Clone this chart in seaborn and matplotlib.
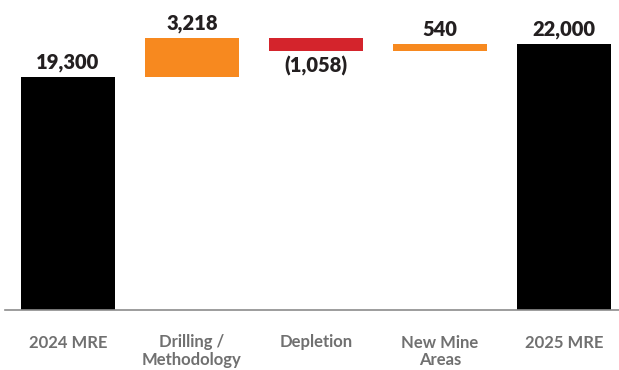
import matplotlib
matplotlib.use("Agg")
import matplotlib.pyplot as plt
import seaborn as sns
import pandas as pd

categories = ["2024 MRE", "Drilling /\nMethodology", "Depletion", "New Mine\nAreas", "2025 MRE"]
changes = [19300, 3218, -1058, 540, 22000]
labels = ["19,300", "3,218", "(1,058)", "540", "22,000"]
kinds = ["total", "step", "step", "step", "total"]

# Waterfall geometry: totals start at zero, steps float on the running sum
bottoms, heights = [], []
running = 0
for v, k in zip(changes, kinds):
    if k == "total":
        bottoms.append(0)
        heights.append(v)
        running = v
    else:
        lo = min(running, running + v)
        bottoms.append(lo)
        heights.append(abs(v))
        running += v

colors = []
for v, k in zip(changes, kinds):
    if k == "total":
        colors.append("#000000")
    elif v >= 0:
        colors.append("#F7891F")
    else:
        colors.append("#D4242C")

df = pd.DataFrame({"category": categories, "height": heights})

sns.set_theme(style="white")
plt.rcParams["font.family"] = ["Lato", "DejaVu Sans"]

fig = plt.figure(figsize=(6.19, 3.70), dpi=100)
ax = fig.add_axes([5 / 619, 60.5 / 370, 614 / 619, 309.5 / 370])

sns.barplot(data=df, x="category", y="height", bottom=bottoms, width=0.758,
            color="#000000", linewidth=0, ax=ax)
for patch, c in zip(ax.patches, colors):
    patch.set_facecolor(c)

for i, (b, h, v, txt) in enumerate(zip(bottoms, heights, changes, labels)):
    if v >= 0:
        ax.annotate(txt, (i, b + h), xytext=(0, 3.5), textcoords="offset points",
                    ha="center", va="bottom", fontsize=14.5, fontweight="heavy",
                    color="#231F20")
    else:
        ax.annotate(txt, (i, b), xytext=(0, -3.5), textcoords="offset points",
                    ha="center", va="top", fontsize=14.5, fontweight="heavy",
                    color="#231F20")

ax.set_xlim(-0.508, 4.444)
ax.set_ylim(0, 25660)
ax.set_xlabel("")
ax.set_ylabel("")
ax.set_yticks([])
for side in ["top", "right", "left"]:
    ax.spines[side].set_visible(False)
ax.spines["bottom"].set_color("#8C8C8C")
ax.spines["bottom"].set_linewidth(1.2)
ax.tick_params(axis="x", length=0, pad=18, labelsize=12, labelcolor="#707070")
for t in ax.get_xticklabels():
    t.set_fontweight("bold")
    t.set_linespacing(1.15)

fig.savefig("out.png", dpi=100)
